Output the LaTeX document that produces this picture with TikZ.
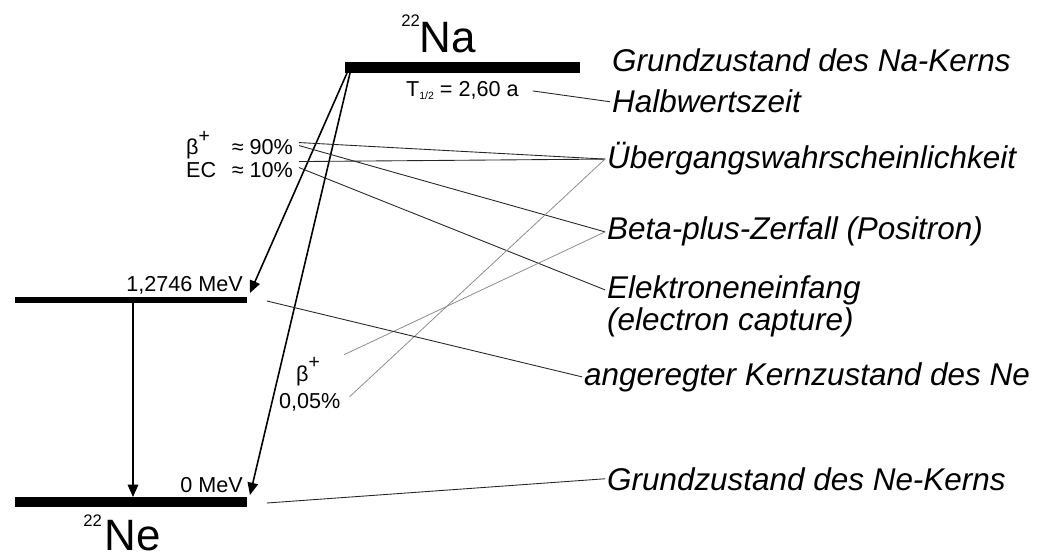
\documentclass[tikz,border=0pt]{standalone}
\usepackage{fontspec}
\setmainfont{Liberation Sans}
\usetikzlibrary{calc,arrows.meta}
\definecolor{leaderGray}{RGB}{140,140,140}
\newcommand{\betaplus}{β\raisebox{0.6em}{\fontsize{11}{11}\selectfont +}}
\tikzset{
  statebar/.style={fill=black,inner sep=0pt,outer sep=0pt,minimum width=#1},
  decay/.style={line width=0.9pt,-{Triangle[length=7pt,width=6pt]}},
  leader/.style={line width=0.5pt,black!85},
  faintleader/.style={line width=0.45pt,leaderGray},
  note/.style={font=\itshape\fontsize{17.9}{21}\selectfont,anchor=base west,inner sep=1pt},
  small/.style={font=\fontsize{12.3}{13}\selectfont,inner sep=1pt}
}

\begin{document}
\begin{tikzpicture}[x=0.02cm,y=-0.02cm]
\useasboundingbox (0,0) rectangle (1044,560);
\node[statebar=4.7cm,minimum height=0.22cm] (na) at (462.5,67.5) {};
\node[statebar=4.64cm,minimum height=0.12cm] (ne1) at (131,300) {};
\node[statebar=4.64cm,minimum height=0.2cm] (ne0) at (131,502) {};
\node[anchor=base west,inner sep=0pt,font=\fontsize{25}{25}\selectfont] (nalbl) at (401,53) {\raisebox{15pt}{\fontsize{9.5}{10}\selectfont 22}Na};
\node[anchor=base west,inner sep=0pt,font=\fontsize{25}{25}\selectfont] (nelbl) at (83,550) {\raisebox{13.5pt}{\fontsize{9.5}{10}\selectfont 22}\kern1.5pt Ne};
\node[small,anchor=base west] (thalf) at (404,97) {T\raisebox{-0.25ex}{\fontsize{6}{6}\selectfont 1/2} = 2,60 a};
\node[small,anchor=base east] (e1lbl) at (245,292) {1,2746 MeV};
\node[small,anchor=base east] (e0lbl) at (245,492) {0 MeV};
\node[small,anchor=base west] (bplus) at (184,155) {\betaplus};
\node[small,anchor=base west] (ec) at (184,178) {EC};
\node[small,anchor=base east] (p90) at (295,155) {≈ 90\%};
\node[small,anchor=base east] (p10) at (295,178) {≈ 10\%};
\node[small,anchor=base west] (bplus2) at (294,381) {\betaplus};
\node[small,anchor=base west] (p005) at (277,408) {0,05\%};
\node[note] (gna) at (610,72) {Grundzustand des Na-Kerns};
\node[note] (hw) at (610,113) {Halbwertszeit};
\node[note] (ueber) at (605,169) {Übergangswahrscheinlichkeit};
\node[note] (betaplus) at (605,240) {Beta-plus-Zerfall (Positron)};
\node[note] (ecap) at (605,298) {Elektroneneinfang};
\node[note] (ecap2) at (605,331) {(electron capture)};
\node[note] (anger) at (582,385) {angeregter Kernzustand des Ne};
\node[note] (gne) at (605,490) {Grundzustand des Ne-Kerns};
\draw[decay] ($(na.south west)+(2,0)$) -- ($(ne1.north east)+(3,-4)$);
\draw[decay] ($(na.south west)+(5,0)$) -- ($(ne0.north east)+(3,-2)$);
\draw[decay] ($(ne1.south)+(2,0)$) -- ($(ne0.north)+(2,0)$);
\draw[leader] ($(thalf.east)+(12,0)$) -- (hw.west);
\draw[leader] ($(p90.east)+(4,-5)$) -- (ueber.west);
\draw[leader] ($(p90.east)+(4,-2)$) -- (betaplus.west);
\draw[leader] ($(p10.east)+(4,-9)$) -- (ueber.west);
\draw[leader] ($(p10.east)+(4,-3)$) -- (ecap.west);
\draw[faintleader] ($(bplus2.north east)+(22,0)$) -- (betaplus.west);
\draw[faintleader] ($(p005.east)+(7,-5)$) -- (ueber.west);
\draw[leader] ($(ne1.east)+(20,1)$) -- (anger.west);
\draw[leader] ($(ne0.east)+(20,1)$) -- (gne.west);
\end{tikzpicture}
\end{document}
